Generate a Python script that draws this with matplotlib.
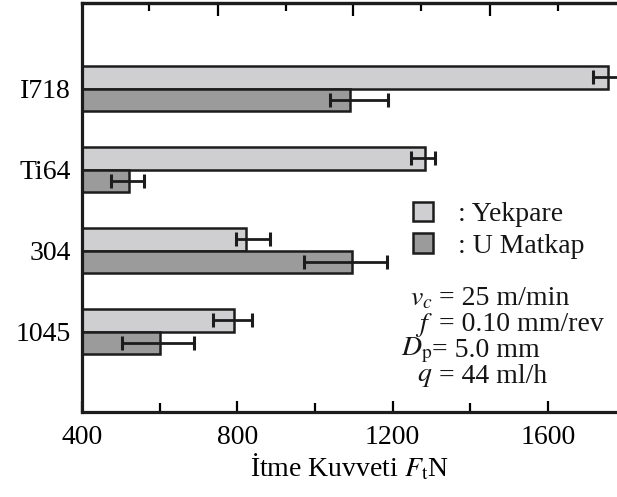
import matplotlib

matplotlib.use("Agg")
import matplotlib.pyplot as plt  # noqa: E402
import numpy as np  # noqa: E402

# --- data -------------------------------------------------------------------
materials = ["1045", "304", "Ti64", "I718"]  # bottom -> top
yekpare = [791, 822, 1283, 1755]
yekpare_err_lo = [54, 26, 36, 39]
yekpare_err_hi = [46, 62, 26, 40]
umatkap = [602, 1095, 522, 1090]
umatkap_err_lo = [100, 123, 48, 52]
umatkap_err_hi = [86, 90, 38, 98]

series_labels = [": Yekpare", ": U Matkap"]
bottom_major = [400, 800, 1200, 1600]
bottom_minor = [600, 1000, 1400]
top_major = [751, 1099, 1450]
top_minor = [573, 926, 1274, 1625]
param_lhs = [r"$v_c$", r"$f$", r"$D_{\mathrm{p}}$", r"$q$"]
param_rhs = [" = 25 m/min", " = 0.10 mm/rev", "= 5.0 mm", " = 44 ml/h"]

LIGHT = "#cfcfd1"
DARK = "#9b9b9b"
EDGE = "#1c1c1c"
FS = 20

plt.rcParams.update(
    {
        "font.family": ["Liberation Serif", "DejaVu Serif"],
        "mathtext.fontset": "stix",
        "font.size": FS,
        "text.color": "#151515",
        "axes.linewidth": 2.3,
        "axes.edgecolor": EDGE,
    }
)

fig = plt.figure(figsize=(6.17, 4.97), dpi=100)
ax = fig.add_axes([0.1329, 0.171, 0.8671, 0.822])

y = np.arange(len(materials))
h = 0.28
ekw = dict(ecolor=EDGE, elinewidth=2.0, capsize=5, capthick=2.2)
b1 = ax.barh(y + h / 2, yekpare, height=h, color=LIGHT, edgecolor=EDGE,
             linewidth=1.8, xerr=[yekpare_err_lo, yekpare_err_hi],
             error_kw=ekw, label=series_labels[0])
b2 = ax.barh(y - h / 2, umatkap, height=h, color=DARK, edgecolor=EDGE,
             linewidth=1.8, xerr=[umatkap_err_lo, umatkap_err_hi],
             error_kw=ekw, label=series_labels[1])

ax.set_xlim(400, 1778)
ax.set_ylim(-0.99, 4.05)
ax.spines["right"].set_visible(False)

ax.set_yticks(y, materials)
ax.tick_params(axis="y", length=0, pad=8, labelsize=FS)

ax.set_xticks(bottom_major)
ax.set_xticks(bottom_minor, minor=True)
ax.tick_params(axis="x", which="both", direction="in", width=1.6,
               labelsize=FS, pad=9)
ax.tick_params(axis="x", which="major", length=8)
ax.tick_params(axis="x", which="minor", length=6.5)

# top axis has its own (unlabelled) tick marks in the original
top = ax.secondary_xaxis("top")
top.set_xticks(top_major)
top.set_xticks(top_minor, minor=True)
top.tick_params(axis="x", which="both", direction="in", width=1.6,
                labeltop=False)
top.tick_params(axis="x", which="major", length=9)
top.tick_params(axis="x", which="minor", length=6)
top.spines["top"].set_linewidth(2.3)

ax.set_xlabel(r"İtme Kuvveti $F_{\mathrm{t}}$N", fontsize=FS, labelpad=2)

ax.legend(handles=[b1, b2], loc="center left", bbox_to_anchor=(0.619, 0.445),
          frameon=False, fontsize=FS, handlelength=0.72, handleheight=0.72,
          handletextpad=0.9, labelspacing=0.22, borderpad=0,
          borderaxespad=0)

for i, (lhs, rhs) in enumerate(zip(param_lhs, param_rhs)):
    yy = 0.278 - i * 0.064
    ax.text(0.655, yy, lhs, transform=ax.transAxes, ha="right",
            va="center", fontsize=FS)
    ax.text(0.655, yy, rhs, transform=ax.transAxes, ha="left",
            va="center", fontsize=FS)

fig.savefig("out.png", dpi=100)
